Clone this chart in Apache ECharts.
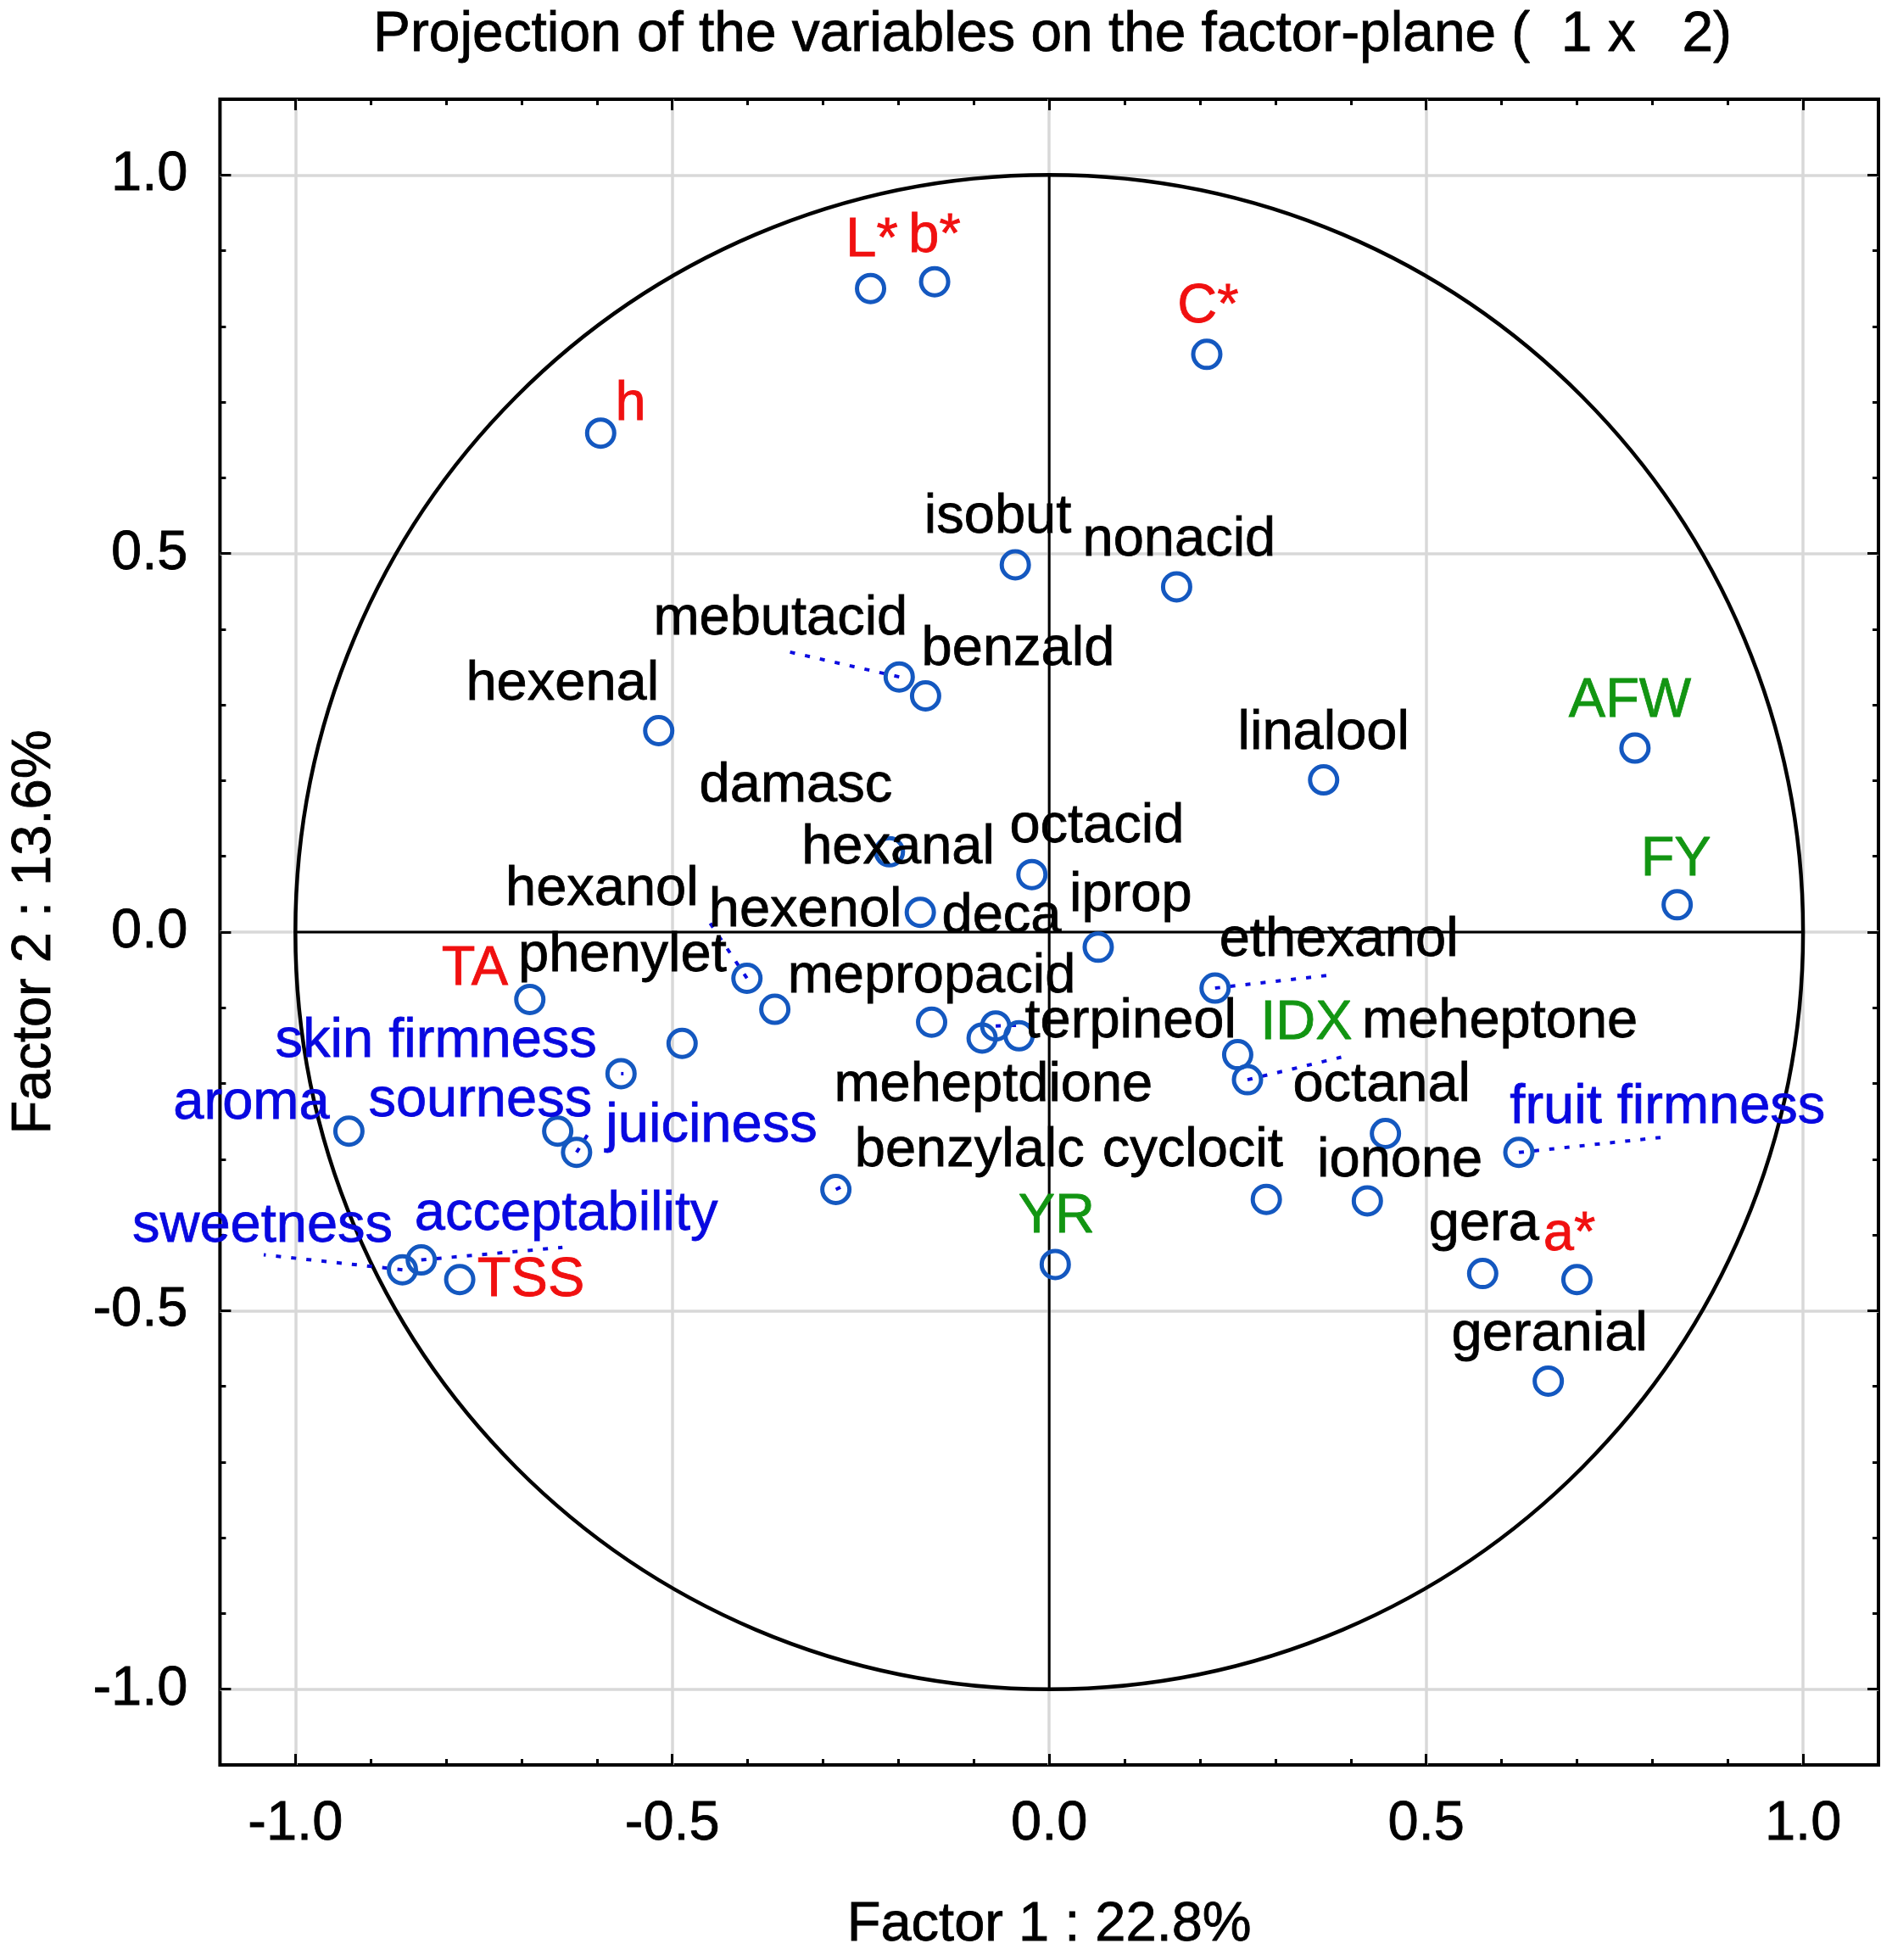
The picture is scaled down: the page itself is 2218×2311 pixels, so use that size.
<!DOCTYPE html>
<html>
<head>
<meta charset="utf-8">
<script src="https://cdn.jsdelivr.net/npm/echarts@6/dist/echarts.min.js"></script>
<style>
html,body{margin:0;padding:0;background:#fff;}
#chart{width:2218px;height:2311px;}
</style>
</head>
<body>
<div id="chart"></div>
<script>
// ---------------- DATA ----------------
const names = ['L*','b*','C*','h','isobut','nonacid','mebutacid','benzald','hexenal','linalool',
  'AFW','FY','hexanal','octacid','hexenol','iprop','hexanol','phenylet','TA','ethexanol',
  'damasc','skin firmness','mepropacid','meheptdione','terpineol','deca','IDX','meheptone','octanal','fruit firmness',
  'aroma','sourness','juiciness','benzylalc','cyclocit','ionone','YR','gera','a*','geranial',
  'sweetness','acceptability','TSS'];
const factor1 = [-0.237,-0.152,0.209,-0.595,-0.045,0.169,-0.199,-0.164,-0.518,0.364,
  0.777,0.833,-0.212,-0.023,-0.171,0.065,-0.401,-0.364,-0.689,0.220,
  -0.487,-0.568,-0.156,-0.089,-0.071,-0.040,0.250,0.263,0.446,0.623,
  -0.929,-0.652,-0.627,-0.283,0.288,0.422,0.008,0.575,0.700,0.662,
  -0.858,-0.833,-0.782];
const factor2 = [0.850,0.859,0.763,0.659,0.485,0.456,0.337,0.312,0.266,0.201,
  0.243,0.036,0.106,0.076,0.026,-0.020,-0.061,-0.102,-0.089,-0.074,
  -0.147,-0.187,-0.119,-0.140,-0.124,-0.137,-0.162,-0.195,-0.266,-0.291,
  -0.263,-0.263,-0.291,-0.340,-0.353,-0.355,-0.439,-0.451,-0.459,-0.593,
  -0.446,-0.433,-0.459];
const groups = ['r','r','r','r','k','k','k','k','k','k',
  'g','g','k','k','k','k','k','k','r','k',
  'k','b','k','k','k','k','g','k','k','b',
  'b','b','b','k','k','k','g','k','r','k',
  'b','b','r'];
const tickValues = [-1.0, -0.5, 0.0, 0.5, 1.0];
const titleText = 'Projection of the variables on the factor-plane (  1 x   2)';
const xName = 'Factor 1 : 22.8%';
const yName = 'Factor 2 : 13.6%';

// ---------------- LAYOUT / STYLE ----------------
const S = 1.4735; // offsets below are measured in reference preview units
const FONT = "'Liberation Sans', Arial, Helvetica, sans-serif";
const FS = 65;
const groupColors = { r: '#f01010', g: '#129512', b: '#0808e0', k: '#000000' };
const labelOffsets = {
  'L*':[1,-38],'b*':[0,-36],'C*':[1,-38],'h':[24,-23],'isobut':[-14,-38],'nonacid':[2,-37],
  'mebutacid':[-95,-46],'benzald':[74,-37],'hexenal':[-77,-37],'linalool':[0,-37],'AFW':[-4,-37],
  'FY':[-1,-36],'hexanal':[7,-3],'octacid':[52,-38],'hexenol':[-92,-1],'iprop':[26,-41],
  'hexanol':[-116,-71],'phenylet':[-122,-43],'TA':[-44,-24],'ethexanol':[99,-38],'damasc':[91,-206],
  'skin firmness':[-148,-26],'mepropacid':[0,-36],'meheptdione':[9,38],'terpineol':[108,-3],
  'deca':[-14,-95],'IDX':[55,-25],'meheptone':[202,-46],'octanal':[-3,-38],'fruit firmness':[119,-36],
  'aroma':[-78,-22],'sourness':[-62,-24],'juiciness':[108,-21],'benzylalc':[107,-31],'cyclocit':[-59,-39],
  'ionone':[26,-32],'YR':[1,-38],'gera':[1,-39],'a*':[-6,-36],'geranial':[1,-37],
  'sweetness':[-112,-35],'acceptability':[116,-36],'TSS':[57,1]
};
const leaderOffsets = {
  'mebutacid':[-88,-20],'hexanol':[-30,-45],'ethexanol':[97,-11],'terpineol':[30,-1],
  'meheptone':[75,-18],'fruit firmness':[114,-12],'sweetness':[-111,-12],'acceptability':[113,-10],
  'juiciness':[10,-16],'skin firmness':[2,0],'benzylalc':[4,-2]
};

// ---------------- CHART ----------------
const chart = echarts.init(document.getElementById('chart'), null, { renderer: 'canvas' });

const tickLine = { color: '#000', width: 3 };
const textBase = { fontSize: FS, fontFamily: FONT, color: '#000', textBorderColor: '#000', textBorderWidth: 0.8 };
function majorAxis(pos, withLabels, extra) {
  return Object.assign({
    type: 'value', min: -1.1, max: 1.1, position: pos,
    axisLine: { show: false, onZero: false },
    axisTick: { show: true, inside: true, length: 13, customValues: tickValues, lineStyle: tickLine },
    axisLabel: withLabels ? Object.assign({ show: true, customValues: tickValues,
      formatter: v => Number(v).toFixed(1), margin: 38 }, textBase) : { show: false },
    splitLine: withLabels ? { show: true, lineStyle: { color: '#d8d8d8', width: 3.5 } } : { show: false }
  }, extra || {});
}
function minorAxis(pos) {
  return {
    type: 'value', min: -1.1, max: 1.1, interval: 0.1, position: pos,
    axisLine: { show: false, onZero: false },
    axisTick: { show: true, inside: true, length: 7, lineStyle: tickLine },
    axisLabel: { show: false }, splitLine: { show: false }
  };
}

const scatterData = names.map((n, i) => {
  const col = groupColors[groups[i]];
  return {
    name: n,
    value: [factor1[i], factor2[i]],
    label: { color: col, textBorderColor: col, offset: [labelOffsets[n][0] * S, labelOffsets[n][1] * S] }
  };
});
const leaderData = [];
names.forEach((n, i) => { if (leaderOffsets[n]) leaderData.push([factor1[i], factor2[i], i]); });

const option = {
  animation: false,
  backgroundColor: '#fff',
  title: {
    text: titleText, left: 1236, top: 4, textAlign: 'center',
    textStyle: Object.assign({}, textBase, { fontSize: 65.8, fontWeight: 'normal' })
  },
  grid: { left: 257, right: 3, top: 117, bottom: 230, show: true, borderColor: '#000', borderWidth: 4, containLabel: false },
  xAxis: [
    majorAxis('bottom', true, { name: xName, nameLocation: 'middle', nameGap: 157, nameTextStyle: textBase }),
    minorAxis('bottom'),
    majorAxis('top', false),
    minorAxis('top')
  ],
  yAxis: [
    majorAxis('left', true, { name: yName, nameLocation: 'middle', nameGap: 186, nameTextStyle: textBase }),
    minorAxis('left'),
    majorAxis('right', false),
    minorAxis('right')
  ],
  series: [
    {
      type: 'custom', coordinateSystem: 'cartesian2d', silent: true, z: 1,
      data: [[0, 0]],
      renderItem: function (params, api) {
        const c = api.coord([0, 0]);
        const sz = api.size([1, 1]);
        const l = api.coord([-1, 0]), r = api.coord([1, 0]);
        const t = api.coord([0, 1]), b = api.coord([0, -1]);
        return {
          type: 'group',
          children: [
            { type: 'line', shape: { x1: l[0], y1: l[1], x2: r[0], y2: r[1] }, style: { stroke: '#000', lineWidth: 3 } },
            { type: 'line', shape: { x1: t[0], y1: t[1], x2: b[0], y2: b[1] }, style: { stroke: '#000', lineWidth: 3 } },
            { type: 'ellipse', shape: { cx: c[0], cy: c[1], rx: sz[0], ry: sz[1] }, style: { fill: 'none', stroke: '#000', lineWidth: 4.5 } }
          ]
        };
      }
    },
    {
      type: 'custom', coordinateSystem: 'cartesian2d', silent: true, z: 3,
      data: leaderData,
      renderItem: function (params, api) {
        const p = api.coord([api.value(0), api.value(1)]);
        const o = leaderOffsets[names[api.value(2)]];
        return {
          type: 'line',
          shape: { x1: p[0], y1: p[1], x2: p[0] + o[0] * S, y2: p[1] + o[1] * S },
          style: { stroke: '#0c0ce0', lineWidth: 4, lineDash: [6, 12] }
        };
      }
    },
    {
      type: 'scatter', z: 4, silent: true,
      symbol: 'circle', symbolSize: 32,
      itemStyle: { color: 'rgba(0,0,0,0)', borderColor: '#1458c0', borderWidth: 5, opacity: 1 },
      label: { show: true, position: 'inside', formatter: '{b}', fontSize: FS, fontFamily: FONT,
        align: 'center', verticalAlign: 'middle', textBorderWidth: 0.8, opacity: 1 },
      emphasis: { disabled: true },
      data: scatterData
    }
  ]
};
chart.setOption(option);
</script>
</body>
</html>
